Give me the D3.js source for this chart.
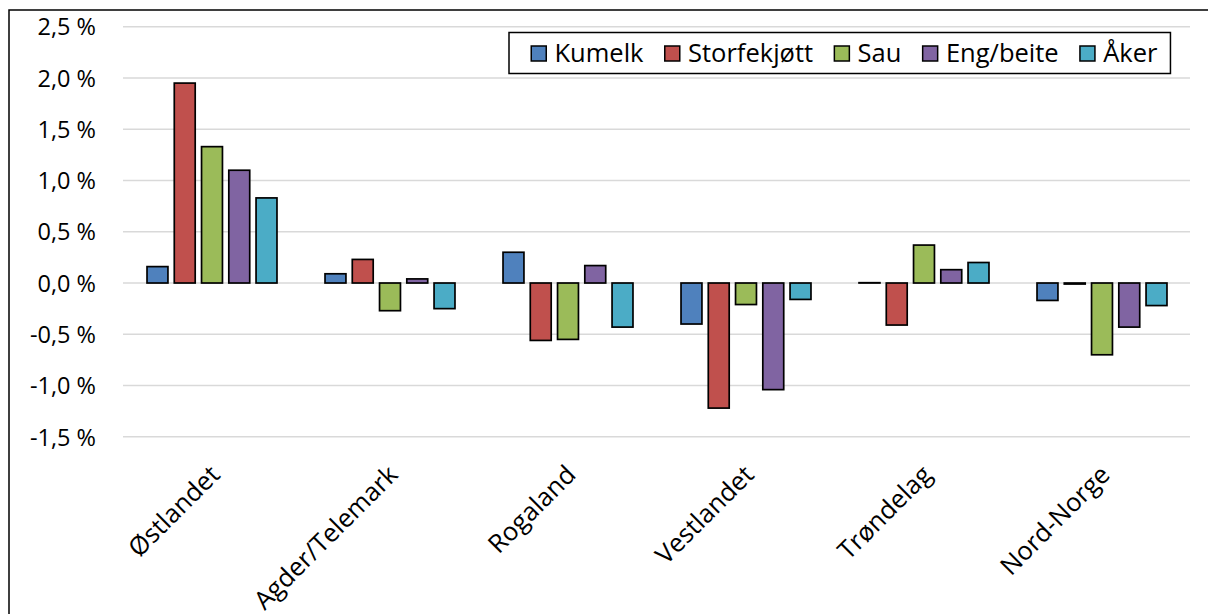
<!DOCTYPE html>
<html>
<head>
    <meta charset="utf-8">
    <title>Endring per region</title>
    <script src="https://d3js.org/d3.v7.min.js"></script>
    <style>
        body { margin: 0; background: #fff; }
        text { font-family: "Open Sans", sans-serif; fill: #000; }
        .grid line { stroke: #d9d9d9; stroke-width: 1.4; }
    </style>
</head>
<body>
    <div id="chart"></div>

    <script>
        // Data (percent)
        var regions = ["Østlandet", "Agder/Telemark", "Rogaland", "Vestlandet", "Trøndelag", "Nord-Norge"];
        var seriesNames = ["Kumelk", "Storfekjøtt", "Sau", "Eng/beite", "Åker"];
        var colors = ["#4f81bd", "#c0504d", "#9bbb59", "#8064a2", "#4bacc6"];
        var kumelk = [0.16, 0.09, 0.30, -0.40, 0.003, -0.17];
        var storfekjott = [1.95, 0.23, -0.56, -1.22, -0.41, -0.01];
        var sau = [1.33, -0.27, -0.55, -0.21, 0.37, -0.70];
        var engBeite = [1.10, 0.04, 0.17, -1.04, 0.13, -0.43];
        var aker = [0.83, -0.25, -0.43, -0.16, 0.20, -0.22];
        var yTicks = [-1.5, -1.0, -0.5, 0.0, 0.5, 1.0, 1.5, 2.0, 2.5];

        var seriesValues = [kumelk, storfekjott, sau, engBeite, aker];

        var width = 1208, height = 614;
        var plot = { left: 123, right: 1191, top: 26.7, bottom: 436.8 };

        var svg = d3.select("#chart")
            .append("svg")
            .attr("width", width)
            .attr("height", height);

        // Outer frame (only left and top visible in the picture)
        svg.append("rect")
            .attr("x", 9).attr("y", 10)
            .attr("width", width + 20).attr("height", height + 20)
            .attr("fill", "none")
            .attr("stroke", "#000")
            .attr("stroke-width", 1.5);

        var x0 = d3.scaleBand()
            .domain(regions)
            .range([plot.left, plot.right])
            .padding(0);

        var x1 = d3.scaleBand()
            .domain(seriesNames)
            .range([0, x0.bandwidth()])
            .paddingInner(0.17)
            .paddingOuter(0.85);

        var y = d3.scaleLinear()
            .domain([-1.5, 2.5])
            .range([plot.bottom, plot.top]);

        var fmt = d3.formatLocale({
            decimal: ",", thousands: " ", grouping: [3],
            currency: ["", " kr"], minus: "-"
        }).format(".1f");

        // Gridlines
        svg.append("g")
            .attr("class", "grid")
            .selectAll("line")
            .data(yTicks)
            .enter().append("line")
            .attr("x1", plot.left)
            .attr("x2", plot.right - 1)
            .attr("y1", function (d) { return y(d); })
            .attr("y2", function (d) { return y(d); });

        // Y axis
        var yAxis = svg.append("g")
            .attr("transform", "translate(" + (plot.left - 27) + ",0)")
            .call(d3.axisLeft(y).tickValues(yTicks).tickSize(0).tickPadding(0)
                .tickFormat(function (d) { return fmt(d) + " %"; }));
        yAxis.select(".domain").remove();
        yAxis.selectAll("text")
            .style("font-size", "23.5px")
            .attr("font-family", null)
            .attr("dy", "0.35em");

        // Bars
        var table = regions.map(function (r, i) {
            return {
                region: r,
                values: seriesNames.map(function (s, j) {
                    return { name: s, value: seriesValues[j][i], color: colors[j] };
                })
            };
        });

        var sw = 1.7;
        svg.append("g")
            .selectAll("g")
            .data(table)
            .enter().append("g")
            .attr("transform", function (d) { return "translate(" + x0(d.region) + ",0)"; })
            .selectAll("rect")
            .data(function (d) { return d.values; })
            .enter().append("rect")
            .attr("x", function (d) { return x1(d.name) + sw / 2; })
            .attr("width", x1.bandwidth() - sw)
            .attr("y", function (d) { return y(Math.max(0, d.value)); })
            .attr("height", function (d) { return Math.abs(y(d.value) - y(0)); })
            .attr("fill", function (d) { return d.color; })
            .attr("stroke", "#000")
            .attr("stroke-width", sw);

        // Category labels
        svg.append("g")
            .selectAll("text")
            .data(regions)
            .enter().append("text")
            .attr("transform", function (d) {
                return "translate(" + (x0(d) + x0.bandwidth() / 2 + 3) + ",470) rotate(-45)";
            })
            .attr("text-anchor", "end")
            .attr("dy", "0.35em")
            .style("font-size", "25.5px")
            .text(function (d) { return d; });

        // Legend
        var legend = svg.append("g");
        var box = legend.append("rect")
            .attr("fill", "#fff")
            .attr("stroke", "#000")
            .attr("stroke-width", 1.5);

        var lx = 530.5, ly = 53.5, ms = 15, gap = 20.5;
        var items = legend.selectAll("g")
            .data(seriesNames)
            .enter().append("g");
        items.each(function (d, i) {
            var g = d3.select(this);
            g.append("rect")
                .attr("x", lx + 0.75).attr("y", ly - ms / 2)
                .attr("width", ms).attr("height", ms)
                .attr("fill", colors[i])
                .attr("stroke", "#000")
                .attr("stroke-width", 1.5);
            var t = g.append("text")
                .attr("x", lx + ms + 9)
                .attr("y", ly)
                .attr("dy", "0.35em")
                .style("font-size", "25.5px")
                .text(d);
            lx = lx + ms + 9 + t.node().getComputedTextLength() + gap;
        });
        box.attr("x", 509).attr("y", 32.5)
            .attr("width", lx - gap + 13 - 509)
            .attr("height", 41);
    </script>
</body>
</html>
